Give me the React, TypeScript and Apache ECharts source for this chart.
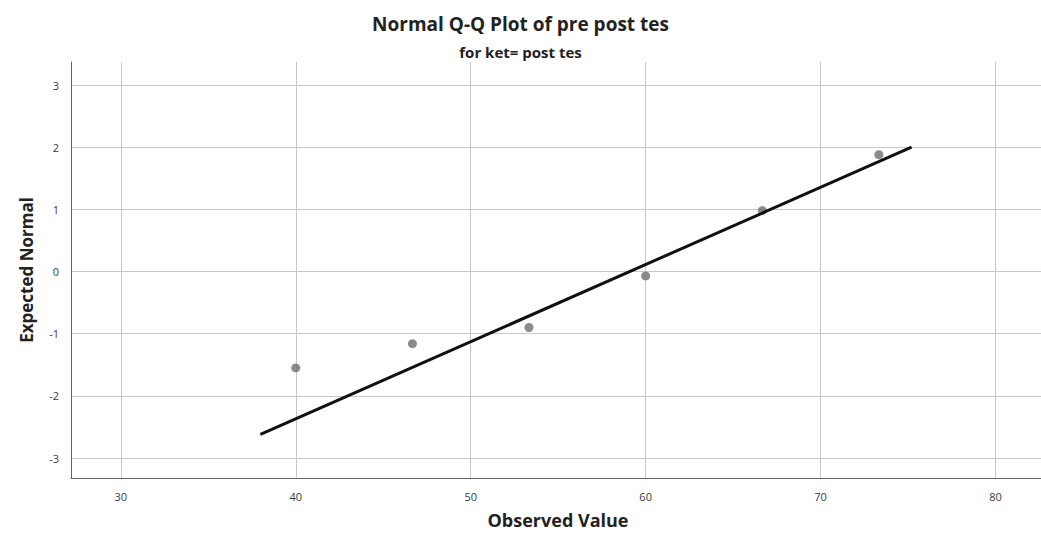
import React, { useEffect, useRef } from "react";
import * as echarts from "echarts";

const observedValues = [40.0, 46.67, 53.33, 60.0, 66.67, 73.33];
const expectedNormal = [-1.55, -1.16, -0.9, -0.07, 0.98, 1.88];
const refLineX = [37.98, 75.2];
const refLineY = [-2.62, 2.0];

const titleText = "Normal Q-Q Plot of pre post tes";
const subtitleText = "for ket= post tes";
const xAxisName = "Observed Value";
const yAxisName = "Expected Normal";

export default function App() {
  const ref = useRef<HTMLDivElement>(null);
  useEffect(() => {
    if (!ref.current) return;
    const chart = echarts.init(ref.current, null, { renderer: "svg" });
    const font = "'Open Sans', 'Liberation Sans', sans-serif";
    chart.setOption({
      animation: false,
      backgroundColor: "#ffffff",
      title: [
        {
          text: titleText,
          left: "center",
          top: 9,
          textStyle: { fontFamily: font, fontSize: 19, fontWeight: "bold", color: "#222" },
        },
        {
          text: subtitleText,
          left: "center",
          top: 39,
          textStyle: { fontFamily: font, fontSize: 15, fontWeight: "bold", color: "#222" },
        },
      ],
      grid: { left: 71, right: 0, top: 62, bottom: 57, containLabel: false, outerBoundsMode: "none" },
      xAxis: {
        type: "value",
        min: 27.15,
        max: 82.6,
        minInterval: 10,
        maxInterval: 10,
        name: xAxisName,
        nameLocation: "middle",
        nameGap: 33,
        nameTextStyle: {
          fontFamily: font,
          fontSize: 18,
          fontWeight: "bold",
          color: "#222",
          padding: [0, 0, 0, 4],
        },
        axisLine: { show: true, onZero: false, lineStyle: { color: "#666", width: 1 } },
        axisTick: { show: false },
        axisLabel: {
          fontFamily: font,
          fontSize: 11,
          color: "#3a3a3a",
          margin: 13,
          showMinLabel: false,
          showMaxLabel: false,
        },
        splitLine: {
          show: true,
          showMinLine: false,
          showMaxLine: false,
          lineStyle: { color: "#c8c8c8", width: 1 },
        },
      },
      yAxis: {
        type: "value",
        min: -3.32,
        max: 3.37,
        minInterval: 1,
        maxInterval: 1,
        name: yAxisName,
        nameLocation: "middle",
        nameGap: 36,
        nameTextStyle: { fontFamily: font, fontSize: 17, fontWeight: "bold", color: "#222" },
        axisLine: { show: true, onZero: false, lineStyle: { color: "#666", width: 1 } },
        axisTick: { show: false },
        axisLabel: {
          fontFamily: font,
          fontSize: 11,
          color: "#3a3a3a",
          margin: 12,
          showMinLabel: false,
          showMaxLabel: false,
        },
        splitLine: {
          show: true,
          showMinLine: false,
          showMaxLine: false,
          lineStyle: { color: "#c8c8c8", width: 1 },
        },
      },
      series: [
        {
          type: "line",
          data: refLineX.map((x, i) => [x, refLineY[i]]),
          symbol: "none",
          lineStyle: { color: "#111", width: 3 },
          z: 3,
        },
        {
          type: "scatter",
          data: observedValues.map((x, i) => [x, expectedNormal[i]]),
          symbolSize: 9,
          itemStyle: { color: "#6e6e6e" },
          z: 2,
        },
      ],
    });
    return () => chart.dispose();
  }, []);
  return (
    <div
      ref={ref}
      style={{ position: "absolute", left: 0, top: 0, width: 1041, height: 535 }}
    />
  );
}
